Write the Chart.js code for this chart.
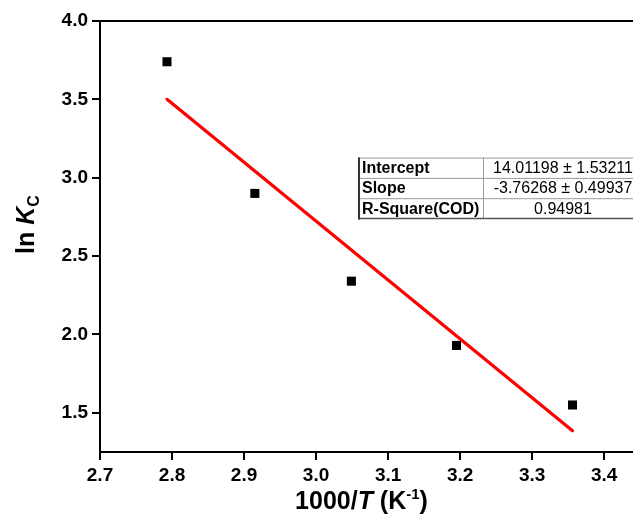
<!DOCTYPE html>
<html><head><meta charset="utf-8">
<script src="https://cdn.jsdelivr.net/npm/chart.js@4.4.0/dist/chart.umd.min.js"></script>
<style>html,body{margin:0;padding:0;background:#fff}#wrap{width:633px;height:524px}</style>
</head><body><div id="wrap"><canvas id="c" width="633" height="524"></canvas></div>
<script>
const invT = [2.793, 2.915, 3.049, 3.195, 3.356];
const lnKc = [3.74, 2.90, 2.34, 1.93, 1.55];
const fitX = [2.793, 3.356];
const fitY = [3.50, 1.385];
const xTicks = [2.7, 2.8, 2.9, 3.0, 3.1, 3.2, 3.3, 3.4];
const yTicks = [1.5, 2.0, 2.5, 3.0, 3.5, 4.0];
const tableLabels = ['Intercept', 'Slope', 'R-Square(COD)'];
const tableValues = ['14.01198 \u00B1 1.53211', '-3.76268 \u00B1 0.49937', '0.94981'];

const FONT = '"Liberation Sans", Arial, sans-serif';
const TICK_LEN = 8;

function drawSegments(ctx, segs, cx, cy) {
  let total = 0;
  segs.forEach(s => { ctx.font = s.font; s.w = ctx.measureText(s.text).width; total += s.w; });
  let x = cx - total / 2;
  ctx.textBaseline = 'alphabetic';
  ctx.textAlign = 'left';
  segs.forEach(s => { ctx.font = s.font; ctx.fillText(s.text, x, cy + (s.dy || 0)); x += s.w; });
}

const extras = {
  id: 'extras',
  afterDraw(chart) {
    const ctx = chart.ctx, a = chart.chartArea;
    const xs = chart.scales.x, ys = chart.scales.y;
    ctx.save();
    // frame top line + outward tick marks
    ctx.strokeStyle = '#000'; ctx.lineWidth = 2; ctx.lineCap = 'butt';
    ctx.beginPath();
    ctx.moveTo(a.left - 1, a.top); ctx.lineTo(a.right, a.top);
    xs.ticks.forEach(t => { const px = Math.round(xs.getPixelForValue(t.value)); ctx.moveTo(px, a.bottom); ctx.lineTo(px, a.bottom + TICK_LEN); });
    ys.ticks.forEach(t => { const py = Math.round(ys.getPixelForValue(t.value)); ctx.moveTo(a.left, py); ctx.lineTo(a.left - TICK_LEN, py); });
    ctx.stroke();
    ctx.fillStyle = '#000';
    // x title
    drawSegments(ctx, [
      {text: '1000/', font: 'bold 25px ' + FONT},
      {text: 'T', font: 'italic bold 25px ' + FONT},
      {text: ' (K', font: 'bold 25px ' + FONT},
      {text: '-1', font: 'bold 15px ' + FONT, dy: -10},
      {text: ')', font: 'bold 25px ' + FONT}
    ], (a.left + a.right) / 2 - 5, 509);
    // y title
    ctx.save();
    ctx.translate(34, (a.top + a.bottom) / 2 - 12);
    ctx.rotate(-Math.PI / 2);
    drawSegments(ctx, [
      {text: 'ln ', font: 'bold 25px ' + FONT},
      {text: 'K', font: 'italic bold 25px ' + FONT},
      {text: 'C', font: 'bold 16px ' + FONT, dy: 5}
    ], 0, 0);
    ctx.restore();
    // fit-results table
    const L = a.left + 258, T = a.top + 136.6, rh = 20.3, c1 = 125, c2 = 160;
    const W = c1 + c2, H = rh * 3;
    ctx.fillStyle = '#fff';
    ctx.fillRect(L, T, W, H);
    ctx.strokeStyle = '#9a9a9a'; ctx.lineWidth = 1;
    ctx.beginPath();
    ctx.moveTo(L, T + 0.5); ctx.lineTo(L + W, T + 0.5);
    for (let i = 1; i < 3; i++) { ctx.moveTo(L, T + rh * i + 0.5); ctx.lineTo(L + W, T + rh * i + 0.5); }
    ctx.moveTo(L + c1 + 0.5, T); ctx.lineTo(L + c1 + 0.5, T + H);
    ctx.stroke();
    ctx.strokeStyle = '#555'; ctx.lineWidth = 1.5;
    ctx.beginPath();
    ctx.moveTo(L, T + H); ctx.lineTo(L + W, T + H);
    ctx.stroke();
    ctx.strokeStyle = '#333'; ctx.lineWidth = 2;
    ctx.beginPath(); ctx.moveTo(L + 1, T); ctx.lineTo(L + 1, T + H + 1); ctx.stroke();
    ctx.fillStyle = '#000';
    ctx.textBaseline = 'middle';
    for (let i = 0; i < 3; i++) {
      const cy = T + rh * i + rh / 2 + 1;
      ctx.font = 'bold 16px ' + FONT; ctx.textAlign = 'left';
      ctx.fillText(tableLabels[i], L + 4, cy);
      ctx.font = '16px ' + FONT; ctx.textAlign = 'center';
      ctx.fillText(tableValues[i], L + c1 + 80, cy);
    }
    ctx.restore();
  }
};

const axisCommon = {
  type: 'linear',
  grid: { display: false, drawOnChartArea: false, drawTicks: false },
  border: { display: true, color: '#000', width: 2 },
  ticks: { color: '#000', font: { family: FONT, weight: 'bold', size: 19 }, padding: TICK_LEN + 4, callback: v => Number(v).toFixed(1) }
};

new Chart(document.getElementById('c'), {
  data: {
    datasets: [
      { type: 'line', data: fitX.map((x, i) => ({x, y: fitY[i]})), borderColor: '#ff0000', borderWidth: 3.2, pointRadius: 0, borderCapStyle: 'round', fill: false, order: 2 },
      { type: 'scatter', data: invT.map((x, i) => ({x, y: lnKc[i]})), pointStyle: 'rect', pointRadius: 6.4, backgroundColor: '#000', borderColor: '#000', borderWidth: 0, order: 1 }
    ]
  },
  options: {
    responsive: false, animation: false, devicePixelRatio: 1,
    layout: { autoPadding: false, padding: { top: 21, right: 0, left: 0, bottom: 0 } },
    plugins: { legend: { display: false }, tooltip: { enabled: false } },
    scales: {
      x: Object.assign({}, axisCommon, {
        min: 2.7, max: 3.44,
        afterBuildTicks: s => { s.ticks = xTicks.map(v => ({value: v})); },
        afterFit: s => { s.height = 72; s.paddingLeft = 0; s.paddingRight = 0; }
      }),
      y: Object.assign({}, axisCommon, {
        min: 1.25, max: 4.0,
        afterBuildTicks: s => { s.ticks = yTicks.map(v => ({value: v})); },
        afterFit: s => { s.width = 100; s.paddingTop = 0; s.paddingBottom = 0; }
      })
    }
  },
  plugins: [extras]
});
</script>
</body></html>
